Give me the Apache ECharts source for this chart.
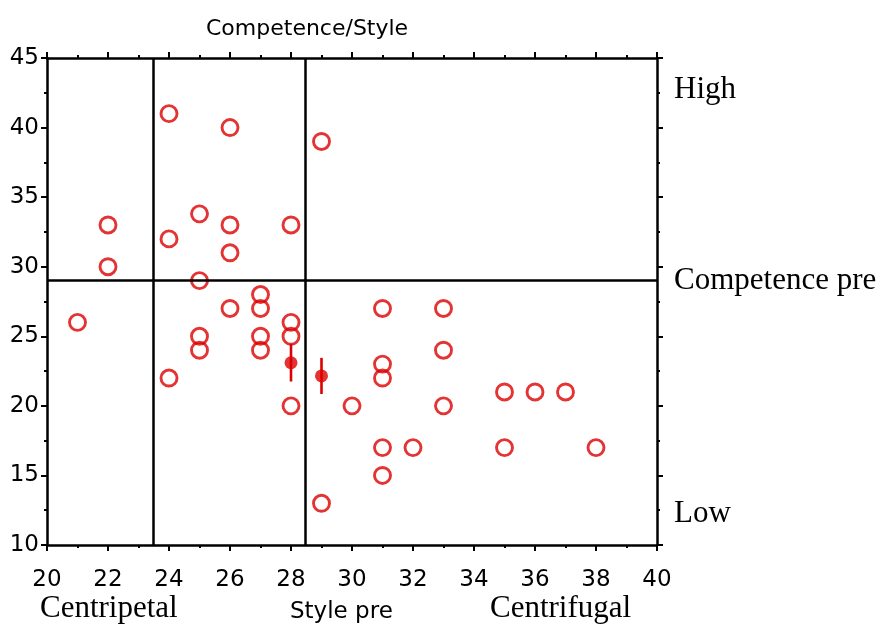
<!DOCTYPE html>
<html>
<head>
<meta charset="utf-8">
<script src="https://cdn.jsdelivr.net/npm/echarts@6/dist/echarts.min.js"></script>
<style>
  html, body { margin: 0; padding: 0; background: #fff; }
  #main { width: 880px; height: 625px; }
</style>
</head>
<body>
<div id="main"></div>
<script>
// 数据
var stylePre = [21, 22, 22, 24, 24, 24, 25, 25, 25, 25, 26, 26, 26, 26, 27, 27, 27, 27,
  28, 28, 28, 28, 29, 29, 30, 31, 31, 31, 31, 31, 32, 33, 33, 33, 35, 35, 36, 37, 38];
var competencePre = [26, 33, 30, 41, 32, 22, 33.8, 29, 25, 24, 40, 33, 31, 27, 28, 27, 25, 24,
  33, 26, 25, 20, 39, 13, 20, 27, 23, 22, 17, 15, 17, 27, 24, 20, 21, 17, 21, 21, 17];
var meanX = [28, 29];
var meanY = [23.1, 22.15];
var meanErr = [1.35, 1.3];
var styleMeans = [23.48, 28.46];
var competenceMean = 29.05;

var myChart = echarts.init(document.getElementById('main'));

var red = '#dd0000';
var tickFont = { color: '#000', fontSize: 23, fontFamily: 'DejaVu Sans' };
var axisLine = { show: true, onZero: false, lineStyle: { color: '#000', width: 2.5 } };
var tick = { show: true, inside: false, length: 6, lineStyle: { width: 2, color: '#000' } };
var minor = { show: true, splitNumber: 2, length: 3, lineStyle: { width: 2, color: '#000' } };

option = {
    backgroundColor: '#fff',
    animation: false,
    grid: { left: 47, right: 223, top: 58, bottom: 80, containLabel: false, outerBoundsMode: 'none' },
    title: {
        text: 'Competence/Style',
        left: 201, top: 13,
        textStyle: { fontWeight: 'normal', fontSize: 22, fontFamily: 'DejaVu Sans', color: '#000' }
    },
    xAxis: [{
        type: 'value', min: 20, max: 40, interval: 2, position: 'bottom',
        axisLine: axisLine, axisTick: tick, minorTick: minor,
        axisLabel: Object.assign({ margin: 24 }, tickFont),
        splitLine: { show: false }
    }, {
        type: 'value', min: 20, max: 40, interval: 2, position: 'top',
        axisLine: axisLine, axisTick: tick, minorTick: minor,
        axisLabel: { show: false },
        splitLine: { show: false }
    }],
    yAxis: [{
        type: 'value', min: 10, max: 45, interval: 5, position: 'left',
        axisLine: axisLine, axisTick: tick, minorTick: minor,
        axisLabel: Object.assign({ margin: 8 }, tickFont),
        splitLine: { show: false }
    }, {
        type: 'value', min: 10, max: 45, interval: 5, position: 'right',
        axisLine: axisLine, axisTick: tick, minorTick: minor,
        axisLabel: { show: false },
        splitLine: { show: false }
    }],
    graphic: [
        { type: 'text', left: 290, top: 601, style: { text: 'Style pre', font: '23px "DejaVu Sans"', fill: '#000' } },
        { type: 'text', left: 674, top: 74, style: { text: 'High', font: '31px "Liberation Serif"', fill: '#000' } },
        { type: 'text', left: 674, top: 265, style: { text: 'Competence pre', font: '31px "Liberation Serif"', fill: '#000' } },
        { type: 'text', left: 674, top: 498, style: { text: 'Low', font: '31px "Liberation Serif"', fill: '#000' } },
        { type: 'text', left: 40, top: 593, style: { text: 'Centripetal', font: '31px "Liberation Serif"', fill: '#000' } },
        { type: 'text', left: 490, top: 593, style: { text: 'Centrifugal', font: '31px "Liberation Serif"', fill: '#000' } }
    ],
    series: [{
        name: 'refs',
        type: 'scatter',
        data: [],
        markLine: {
            silent: true,
            symbol: 'none',
            label: { show: false },
            lineStyle: { color: '#000', width: 2.5, type: 'solid' },
            data: [
                { xAxis: styleMeans[0] },
                { xAxis: styleMeans[1] },
                { yAxis: competenceMean }
            ]
        }
    }, {
        name: 'subjects',
        type: 'scatter',
        symbol: 'circle',
        symbolSize: 16,
        itemStyle: { color: 'rgba(0,0,0,0)', borderColor: red, borderWidth: 2.9 },
        data: stylePre.map(function (x, i) { return [x, competencePre[i]]; })
    }, {
        name: 'errorbars',
        type: 'custom',
        renderItem: function (params, api) {
            var x = api.value(0), lo = api.value(1), hi = api.value(2);
            var p1 = api.coord([x, lo]);
            var p2 = api.coord([x, hi]);
            return {
                type: 'line',
                shape: { x1: p1[0], y1: p1[1], x2: p2[0], y2: p2[1] },
                style: { stroke: red, lineWidth: 2.6 }
            };
        },
        data: meanX.map(function (x, i) { return [x, meanY[i] - meanErr[i], meanY[i] + meanErr[i]]; }),
        z: 3
    }, {
        name: 'means',
        type: 'scatter',
        symbol: 'circle',
        symbolSize: 13,
        itemStyle: { color: red },
        data: meanX.map(function (x, i) { return [x, meanY[i]]; }),
        z: 4
    }]
};

myChart.setOption(option);
</script>
</body>
</html>
